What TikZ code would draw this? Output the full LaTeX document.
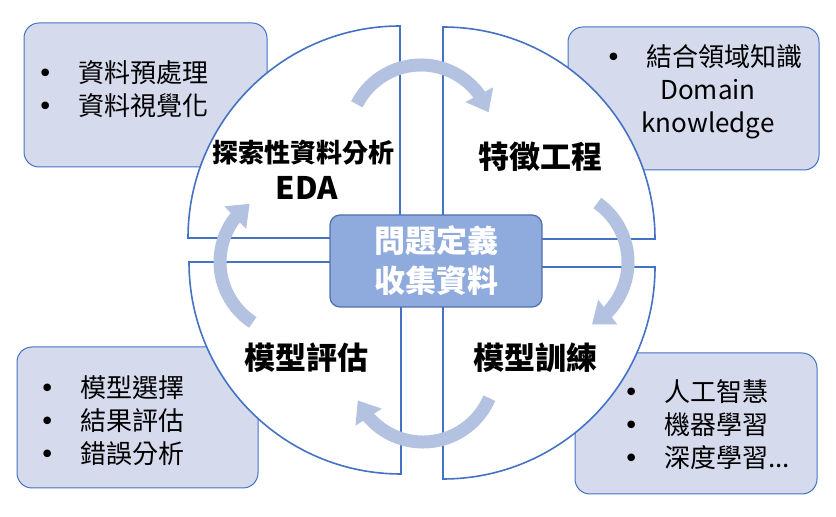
\documentclass[tikz,border=0pt]{standalone}
\usepackage{fontspec}
\setmainfont{Noto Sans CJK TC}
\newfontfamily\dotfont{DejaVu Sans}
\usetikzlibrary{arrows.meta,bending}

\definecolor{edgeblue}{HTML}{4472C4}
\definecolor{notefill}{HTML}{D6DAED}
\definecolor{cycleblue}{HTML}{B4C2E2}
\definecolor{corefill}{HTML}{8FAADC}
\definecolor{coreedge}{HTML}{4F6FAF}
\newcommand{\bul}{\makebox[0pt][c]{\dotfont •}\hspace{33pt}}

\begin{document}
\begin{tikzpicture}[x=1pt,y=1pt,
  notebox/.style={draw=edgeblue, fill=notefill, line width=1pt, rounded corners=15pt},
  quarter/.style={draw=edgeblue, fill=white, line width=1.6pt},
  cyclearrow/.style={draw=cycleblue, line width=13pt, -{Triangle[width=30pt,length=20pt,flex]}},
  stage/.style={inner sep=0pt, font=\fontsize{31}{36}\selectfont\bfseries},
  notes/.style={inner sep=0pt, font=\fontsize{26}{33}\selectfont, align=left}]
\useasboundingbox (0,0) rectangle (836,517);

% Note boxes behind the circle
\draw[notebox] (24,350) rectangle (267,494);
\draw[notebox] (568,347) rectangle (819,490);
\draw[notebox] (17,29) rectangle (258,170);
\draw[notebox] (575,23) rectangle (817,164);

% Circle in four quarters
\foreach \cx/\cy/\a in {400/279/90, 443/278/0, 401/255/180, 443/250/270}
  \draw[quarter] (\cx,\cy) -- ++(\a:212pt) arc (\a:\a+90:212pt) -- cycle;

% Cycle arrows
\foreach \cx/\cy/\s/\e in {421/380/153/20, 556/255/55/-60, 423/147/-23/-155, 292/255/237/126}
  \draw[cyclearrow] (\cx,\cy) ++(\s:72pt) arc (\s:\e:72pt);

% Centre box
\node[draw=coreedge, fill=corefill, line width=1.2pt, rounded corners=10pt,
  minimum width=212pt, minimum height=92pt, align=center, text=white,
  font=\fontsize{31}{40}\selectfont\bfseries] (core) at (436,256) {問題定義\\收集資料};

% Stages
\node[stage, font=\fontsize{26}{30}\selectfont\bfseries] (eda) at (303,364) {探索性資料分析};
\node[stage] (edatag) at (307,329) {EDA};
\node[stage] (feature) at (540,360) {特徵工程};
\node[stage] (train) at (535,159) {模型訓練};
\node[stage] (evaluate) at (306,159) {模型評估};

% Notes
\node[notes, anchor=west] (prepnote) at (45,427.5) {\bul 資料預處理\\ \bul 資料視覺化};
\node[notes, align=center] (domainnote) at (708,425) {\bul 結合領域知識\\Domain\\knowledge};
\node[notes, anchor=west] (evalnote) at (47,96) {\bul 模型選擇\\ \bul 結果評估\\ \bul 錯誤分析};
\node[notes, anchor=west] (trainnote) at (631,92.5) {\bul 人工智慧\\ \bul 機器學習\\ \bul 深度學習...};
\end{tikzpicture}
\end{document}
